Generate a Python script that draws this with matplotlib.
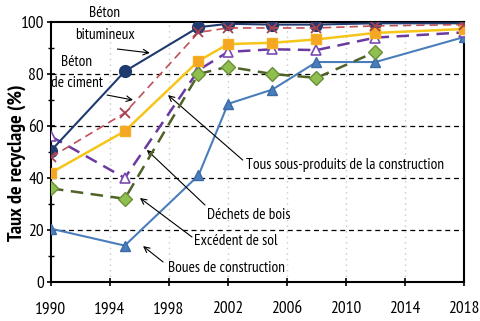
import matplotlib
matplotlib.use("Agg")
import matplotlib.pyplot as plt
from matplotlib.ticker import MultipleLocator
from matplotlib import font_manager as fm

available = {f.name for f in fm.fontManager.ttflist}
candidates = ['PT Sans Narrow', 'Open Sans Condensed', 'Fira Sans Condensed',
              'Roboto Condensed', 'Archivo Narrow', 'Liberation Sans Narrow',
              'Encode Sans Condensed', 'IBM Plex Sans Condensed',
              'Asap Condensed', 'Barlow Semi Condensed']
family = [c for c in candidates if c in available][:1] + ['DejaVu Sans']
plt.rcParams['font.family'] = family

years = [1990, 1995, 2000, 2002, 2005, 2008, 2012, 2018]
years_sol = [1990, 1995, 2000, 2002, 2005, 2008, 2012]

beton_bitumineux = [50.5, 81, 98, 99.3, 99, 99, 99.5, 99.5]
beton_ciment = [48, 65, 96, 97.7, 97.7, 97.7, 98.5, 99]
tous_sous_produits = [42, 58, 85, 91.5, 92, 93.3, 95.8, 97.3]
dechets_bois = [56, 40, 81.5, 88.5, 89.5, 89.2, 94, 96]
excedent_sol = [36, 32, 80, 82.8, 80, 78.5, 88.5]
boues = [20.5, 14, 41, 68.5, 74, 84.6, 84.6, 94.2]

xticks = [1990, 1994, 1998, 2002, 2006, 2010, 2014, 2018]
yticks = [0, 20, 40, 60, 80, 100]
ylabel = "Taux de recyclage (%)"

fig = plt.figure(figsize=(4.8, 3.21), dpi=100)
ax = fig.add_axes([0.10625, 0.1215, 0.8604, 0.81])

# grid
for y in [20, 40, 60, 80]:
    ax.axhline(y, color='black', lw=0.9, ls=(0, (4, 3)), zorder=1)
for x in [1994, 1998, 2002, 2006, 2010, 2014]:
    ax.axvline(x, color='#c8c8c8', lw=1.0, ls=(0, (1, 3)), zorder=1)

ax.plot(years, boues, color='#4a7ebb', lw=1.5, marker='^', ms=7.5,
        mfc='#4a7ebb', mec='#3a6aa8', zorder=3)
ax.plot(years, dechets_bois, color='#6a3aa0', lw=1.8, ls=(0, (5, 3)),
        marker='^', ms=7.5, mfc='white', mec='#7a4ab0', mew=1.2, zorder=3)
ax.plot(years_sol, excedent_sol, color='#4f6228', lw=1.8, ls=(0, (5, 3)),
        marker='D', ms=7, mfc='#8fbf4f', mec='#6a8f3a', zorder=4)
ax.plot(years, beton_bitumineux, color='#1f3a6e', lw=1.5, marker='o', ms=8.5,
        mfc='#1f3a6e', mec='#1f3a6e', zorder=5)
ax.plot(years, beton_ciment, color='#c0505a', lw=1.2, ls=(0, (5, 3)),
        marker='x', ms=7, mew=1.3, mec='#a84050', zorder=6)
ax.plot(years, tous_sous_produits, color='#f5c518', lw=1.8, marker='s', ms=7.5,
        mfc='#f5a623', mec='#f5b020', zorder=5)

ax.set_xlim(1990, 2018)
ax.set_ylim(0, 100)
ax.set_xticks(xticks)
ax.set_yticks(yticks)
ax.yaxis.set_minor_locator(MultipleLocator(10))
ax.tick_params(axis='both', which='major', direction='inout', length=6,
               width=1.2, labelsize=12.5)
ax.tick_params(axis='y', which='minor', direction='inout', length=4, width=1)
ax.tick_params(axis='x', pad=11)
ax.tick_params(axis='y', pad=2)
for s in ax.spines.values():
    s.set_linewidth(1.5)
    s.set_color('black')
ax.set_ylabel(ylabel, fontsize=14.5, fontweight='bold')
ax.yaxis.set_label_coords(-0.06, 0.46)

arrow = dict(arrowstyle='->', color='black', lw=0.8, shrinkA=0, shrinkB=0)
fs = 11
ax.text(1993.65, 99.2, "Béton\nbitumineux", ha='center', va='center',
        fontsize=fs, linespacing=1.65, clip_on=False)
ax.annotate("", xy=(1996.7, 88.1), xytext=(1994.5, 89.6), arrowprops=arrow)
ax.text(1991.75, 80.6, "Béton\nde ciment", ha='center', va='center',
        fontsize=fs, linespacing=1.6)
ax.annotate("", xy=(1995.56, 70.0), xytext=(1993.8, 71.9), arrowprops=arrow)
ax.text(2003.2, 45.0, "Tous sous-produits de la construction", ha='left',
        va='center', fontsize=fs)
ax.annotate("", xy=(1997.93, 71.9), xytext=(2003.0, 46.9), arrowprops=arrow)
ax.text(2000.6, 25.8, "Déchets de bois", ha='left', va='center', fontsize=fs)
ax.annotate("", xy=(1996.5, 50.8), xytext=(2000.44, 29.6), arrowprops=arrow)
ax.text(1999.7, 15.8, "Excédent de sol", ha='left', va='center', fontsize=fs)
ax.annotate("", xy=(1996.03, 32.3), xytext=(1999.56, 17.3), arrowprops=arrow)
ax.text(1997.95, 5.4, "Boues de construction", ha='left', va='center', fontsize=fs)
ax.annotate("", xy=(1996.24, 13.8), xytext=(1997.6, 7.7), arrowprops=arrow)

fig.savefig("out.png", dpi=100)
